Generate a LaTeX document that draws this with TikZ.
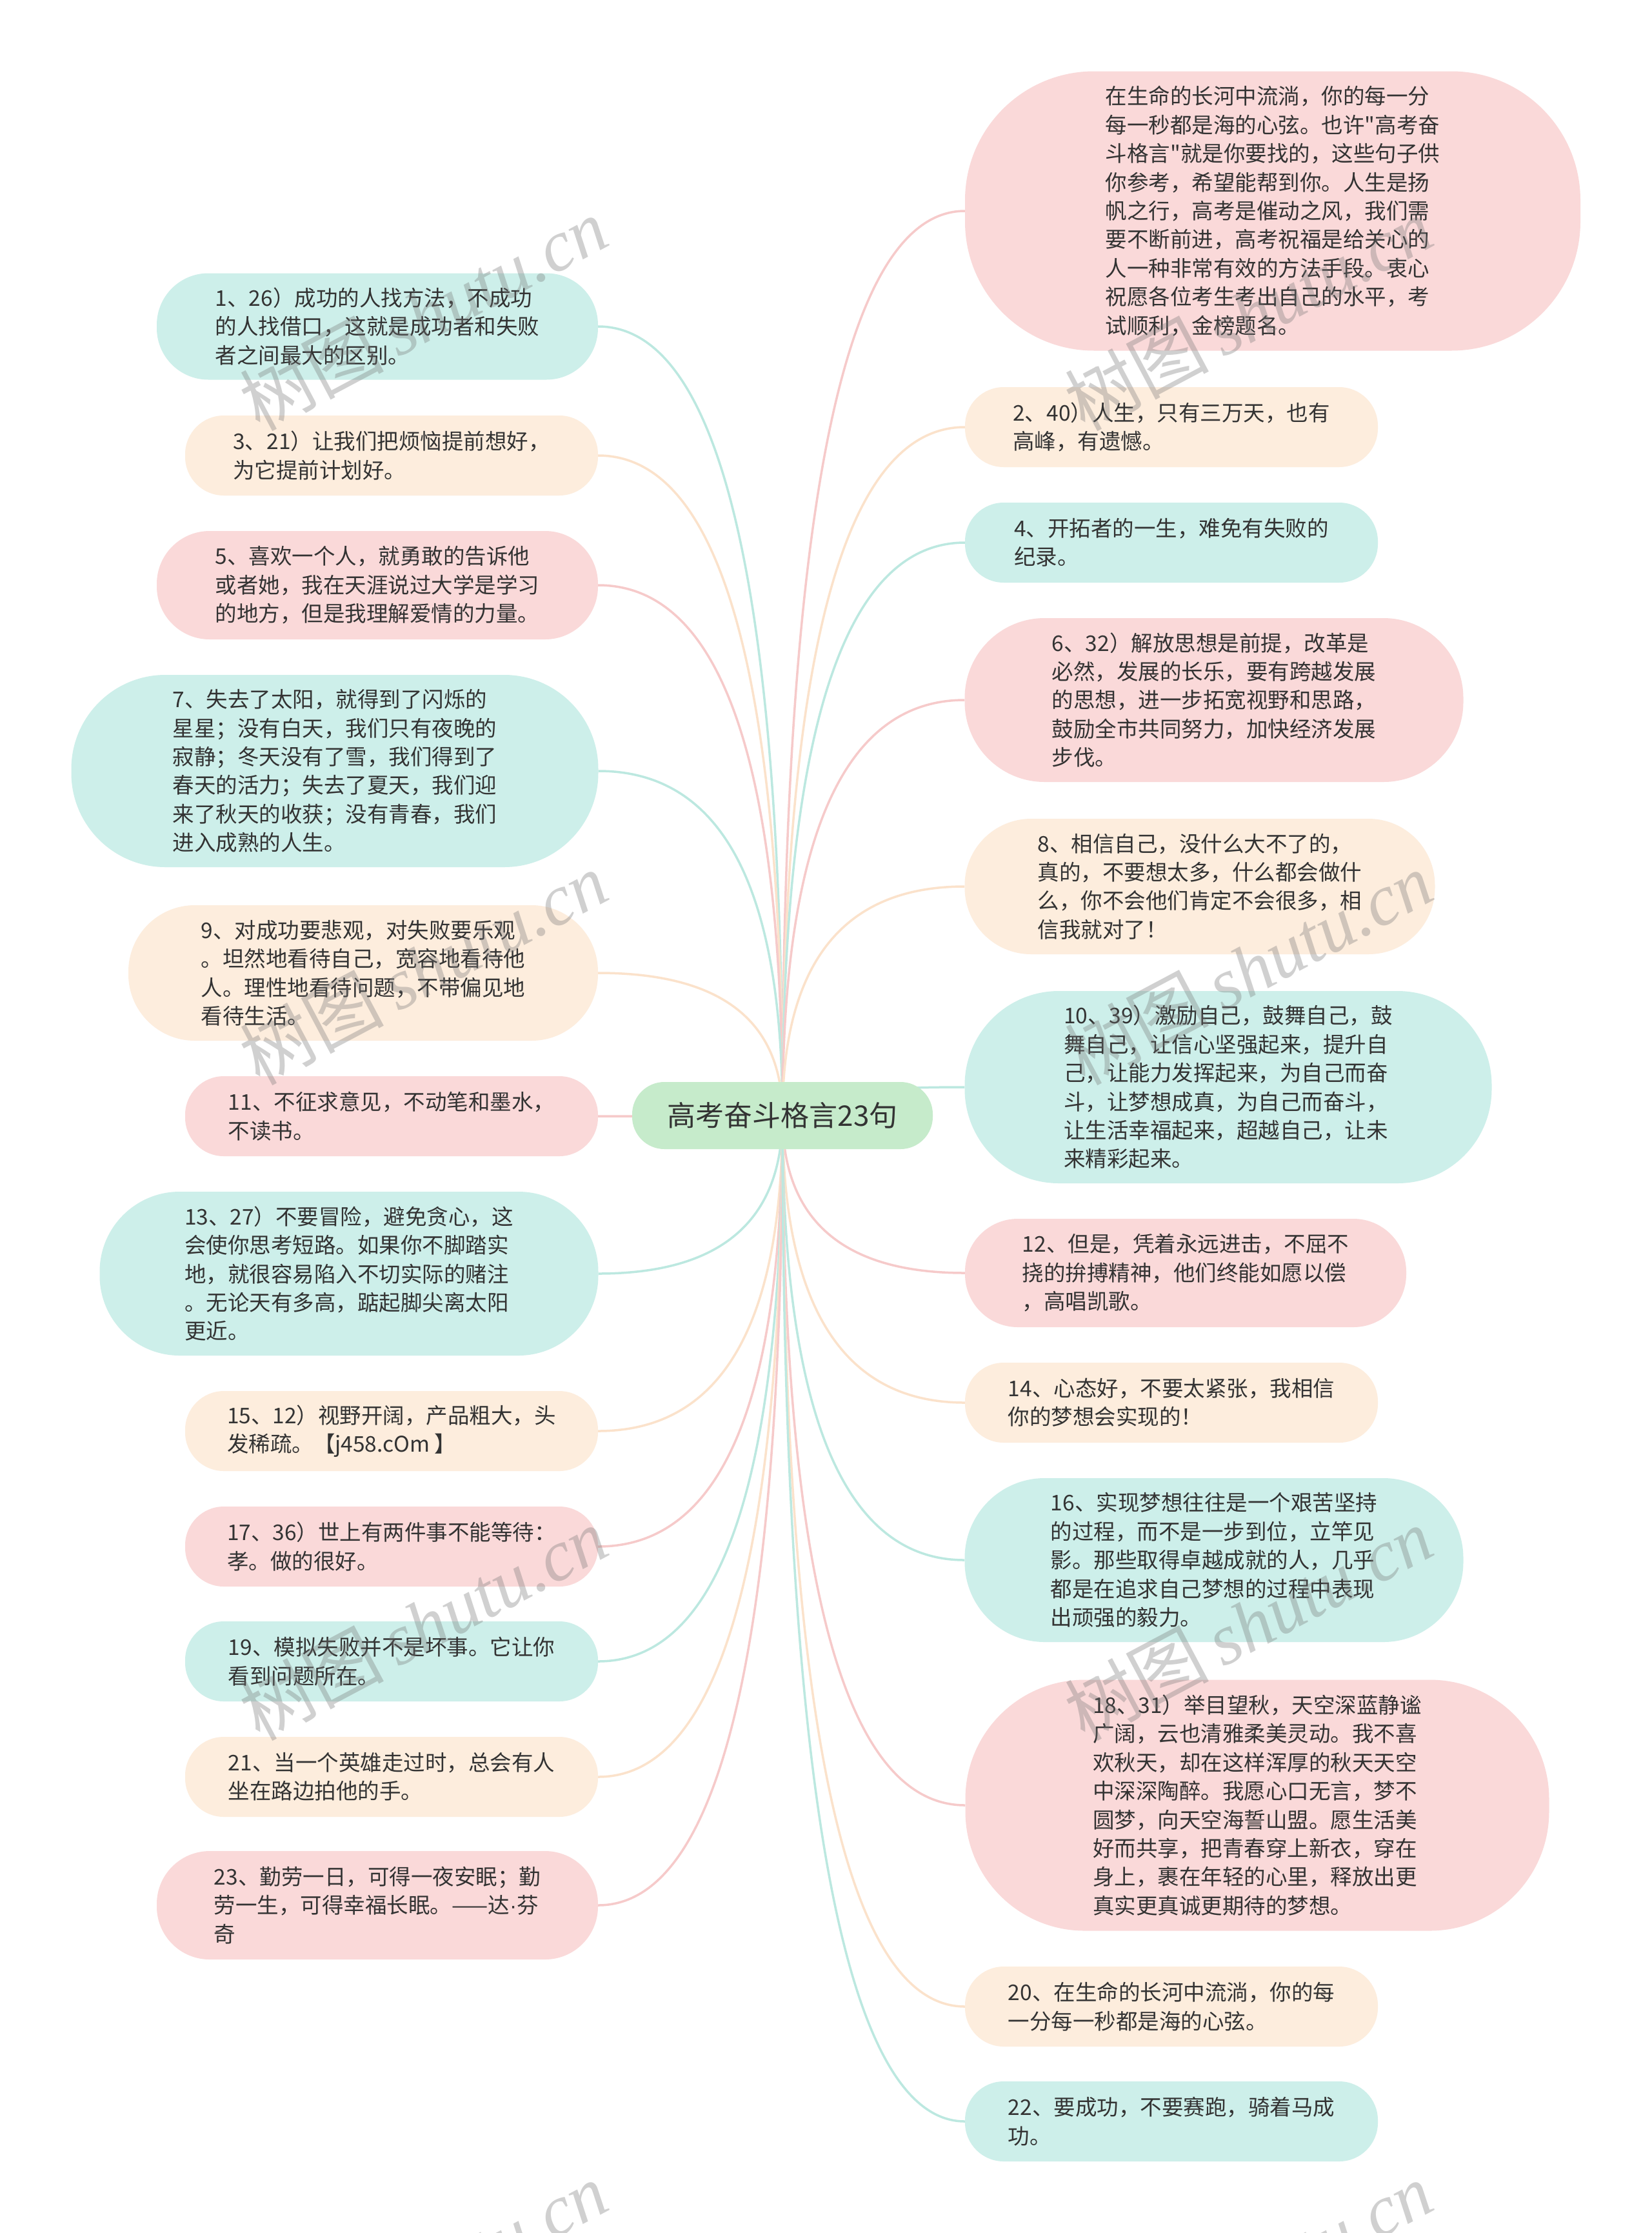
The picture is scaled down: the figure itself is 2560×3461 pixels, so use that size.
\documentclass[tikz,border=0pt]{standalone}
\usepackage{fontspec}
\setmainfont{Noto Sans CJK SC}[Ligatures=TeXOff]
\newfontfamily\wmlat{Liberation Serif}
\newfontfamily\latf{Liberation Sans}
\usetikzlibrary{calc,backgrounds}
\definecolor{tealf}{HTML}{CDEFEA}
\definecolor{peachf}{HTML}{FDEDDD}
\definecolor{pinkf}{HTML}{FAD9D9}
\definecolor{rootf}{HTML}{C6EBCB}
\definecolor{tealline}{HTML}{BCE8E0}
\definecolor{peachline}{HTML}{FBE2CB}
\definecolor{pinkline}{HTML}{F6CACA}
\definecolor{txt}{HTML}{333333}
\tikzset{
  mm/.style={rectangle, inner sep=0pt, align=left, text=txt, font=\fontsize{33.5}{44.4}\selectfont},
  tl/.style={draw=tealline, line width=3.5pt},
  pl/.style={draw=peachline, line width=3.5pt},
  kl/.style={draw=pinkline, line width=3.5pt},
  wm/.style={text=black!55, opacity=0.33, inner sep=0pt, rotate=28},
}
\newcommand\mmbox[8]{\node[mm, fill=#2, minimum width=#5, minimum height=#6, rounded corners=#7] (#1) at (#3,#4) {#8};}
\newcommand\mmlink[2]{\draw[#1] (root.center) .. controls ($(root.center)!0.6667!(root.center |- #2)$) and ($(#2)!0.6667!(root.center |- #2)$) .. (#2);}
\newcommand\wmark[3]{\node[wm] (#1) at (#2,#3) {\fontsize{112}{112}\selectfont 树图\hspace{20pt}{\wmlat\itshape shutu.cn}};}
\begin{document}
\begin{tikzpicture}[x=1pt,y=-1pt]
\useasboundingbox (0,0) rectangle (2560,3461);
\clip (0,0) rectangle (2560,3461);
\node[rectangle, fill=rootf, text=txt, minimum width=466, minimum height=104, rounded corners=50, inner sep=0pt, font=\fontsize{44}{50}\selectfont] (root) at (1213,1729) {高考奋斗格言23句};
% left
\mmbox{l1}{tealf}{585}{506}{684}{165}{80}{1、26）成功的人找方法，不成功\\的人找借口，这就是成功者和失败\\者之间最大的区别。}
\mmbox{l2}{peachf}{607}{706}{640}{124}{60}{3、21）让我们把烦恼提前想好，\\为它提前计划好。}
\mmbox{l3}{pinkf}{585}{907}{684}{168}{82}{5、喜欢一个人，就勇敢的告诉他\\或者她，我在天涯说过大学是学习\\的地方，但是我理解爱情的力量。}
\mmbox{l4}{tealf}{519}{1195}{817}{298}{146}{7、失去了太阳，就得到了闪烁的\\星星；没有白天，我们只有夜晚的\\寂静；冬天没有了雪，我们得到了\\春天的活力；失去了夏天，我们迎\\来了秋天的收获；没有青春，我们\\进入成熟的人生。}
\mmbox{l5}{peachf}{563}{1508}{728}{210}{103}{9、对成功要悲观，对失败要乐观\\。坦然地看待自己，宽容地看待他\\人。理性地看待问题，不带偏见地\\看待生活。}
\mmbox{l6}{pinkf}{607}{1730}{640}{124}{60}{11、不征求意见，不动笔和墨水，\\不读书。}
\mmbox{l7}{tealf}{541}{1974}{773}{254}{124}{13、27）不要冒险，避免贪心，这\\会使你思考短路。如果你不脚踏实\\地，就很容易陷入不切实际的赌注\\。无论天有多高，踮起脚尖离太阳\\更近。}
\mmbox{l8}{peachf}{607}{2218}{640}{124}{60}{15、12）视野开阔，产品粗大，头\\发稀疏。【j458.cOm 】}
\mmbox{l9}{pinkf}{607}{2397}{640}{124}{60}{17、36）世上有两件事不能等待：\\孝。做的很好。}
\mmbox{l10}{tealf}{607}{2575}{640}{124}{60}{19、模拟失败并不是坏事。它让你\\看到问题所在。}
\mmbox{l11}{peachf}{607}{2754}{640}{124}{60}{21、当一个英雄走过时，总会有人\\坐在路边拍他的手。}
\mmbox{l12}{pinkf}{585}{2953}{684}{168}{82}{23、勤劳一日，可得一夜安眠；勤\\劳一生，可得幸福长眠。——达{\latf ·}芬\\奇}
% right
\mmbox{r1}{pinkf}{1973}{327}{954}{433}{200}{在生命的长河中流淌，你的每一分\\每一秒都是海的心弦。也许"高考奋\\斗格言"就是你要找的，这些句子供\\你参考，希望能帮到你。人生是扬\\帆之行，高考是催动之风，我们需\\要不断前进，高考祝福是给关心的\\人一种非常有效的方法手段。衷心\\祝愿各位考生考出自己的水平，考\\试顺利，金榜题名。}
\mmbox{r2}{peachf}{1816}{662}{640}{124}{60}{2、40）人生，只有三万天，也有\\高峰，有遗憾。}
\mmbox{r3}{tealf}{1816}{841}{640}{124}{60}{4、开拓者的一生，难免有失败的\\纪录。}
\mmbox{r4}{pinkf}{1882}{1085}{773}{254}{124}{6、32）解放思想是前提，改革是\\必然，发展的长乐，要有跨越发展\\的思想，进一步拓宽视野和思路，\\鼓励全市共同努力，加快经济发展\\步伐。}
\mmbox{r5}{peachf}{1860}{1374}{729}{210}{103}{8、相信自己，没什么大不了的，\\真的，不要想太多，什么都会做什\\么，你不会他们肯定不会很多，相\\信我就对了！}
\mmbox{r6}{tealf}{1904}{1685}{817}{298}{146}{10、39）激励自己，鼓舞自己，鼓\\舞自己，让信心坚强起来，提升自\\己，让能力发挥起来，为自己而奋\\斗，让梦想成真，为自己而奋斗，\\让生活幸福起来，超越自己，让未\\来精彩起来。}
\mmbox{r7}{pinkf}{1838}{1973}{684}{168}{82}{12、但是，凭着永远进击，不屈不\\挠的拚搏精神，他们终能如愿以偿\\，高唱凯歌。}
\mmbox{r8}{peachf}{1816}{2174}{640}{124}{60}{14、心态好，不要太紧张，我相信\\你的梦想会实现的！}
\mmbox{r9}{tealf}{1882}{2418}{773}{254}{124}{16、实现梦想往往是一个艰苦坚持\\的过程，而不是一步到位，立竿见\\影。那些取得卓越成就的人，几乎\\都是在追求自己梦想的过程中表现\\出顽强的毅力。}
\mmbox{r10}{pinkf}{1949}{2798}{905}{389}{185}{18、31）举目望秋，天空深蓝静谧\\广阔，云也清雅柔美灵动。我不喜\\欢秋天，却在这样浑厚的秋天天空\\中深深陶醉。我愿心口无言，梦不\\圆梦，向天空海誓山盟。愿生活美\\好而共享，把青春穿上新衣，穿在\\身上，裹在年轻的心里，释放出更\\真实更真诚更期待的梦想。}
\mmbox{r11}{peachf}{1816}{3110}{640}{124}{60}{20、在生命的长河中流淌，你的每\\一分每一秒都是海的心弦。}
\mmbox{r12}{tealf}{1816}{3288}{640}{124}{60}{22、要成功，不要赛跑，骑着马成\\功。}
\begin{scope}[on background layer]
\fill[white] (0,0) rectangle (2560,3461);
\mmlink{tl}{l1.east}
\mmlink{pl}{l2.east}
\mmlink{kl}{l3.east}
\mmlink{tl}{l4.east}
\mmlink{pl}{l5.east}
\mmlink{kl}{l6.east}
\mmlink{tl}{l7.east}
\mmlink{pl}{l8.east}
\mmlink{kl}{l9.east}
\mmlink{tl}{l10.east}
\mmlink{pl}{l11.east}
\mmlink{kl}{l12.east}
\mmlink{kl}{r1.west}
\mmlink{pl}{r2.west}
\mmlink{tl}{r3.west}
\mmlink{kl}{r4.west}
\mmlink{pl}{r5.west}
\mmlink{tl}{r6.west}
\mmlink{kl}{r7.west}
\mmlink{pl}{r8.west}
\mmlink{tl}{r9.west}
\mmlink{kl}{r10.west}
\mmlink{pl}{r11.west}
\mmlink{tl}{r12.west}
\end{scope}
% watermarks
\wmark{w1}{656}{486}
\wmark{w2}{1935}{486}
\wmark{w3}{656}{1500}
\wmark{w4}{1935}{1500}
\wmark{w5}{656}{2516}
\wmark{w6}{1935}{2516}
\wmark{w7}{656}{3531}
\wmark{w8}{1935}{3531}
\end{tikzpicture}
\end{document}
